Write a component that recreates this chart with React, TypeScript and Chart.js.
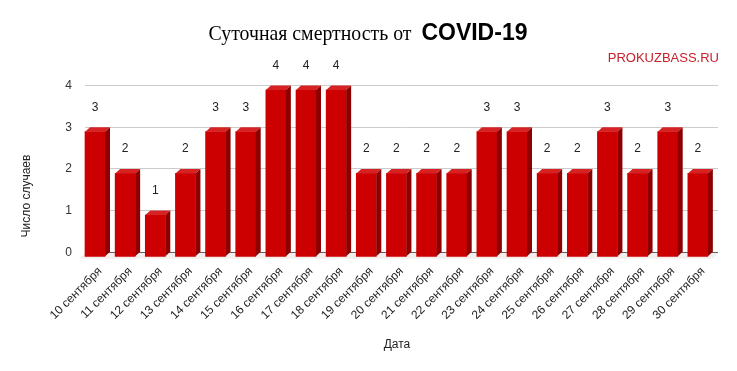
import React, { useEffect, useRef } from "react";
import { Chart, registerables } from "chart.js";

Chart.register(...registerables);

const categories = [
  "10 сентября", "11 сентября", "12 сентября", "13 сентября", "14 сентября",
  "15 сентября", "16 сентября", "17 сентября", "18 сентября", "19 сентября",
  "20 сентября", "21 сентября", "22 сентября", "23 сентября", "24 сентября",
  "25 сентября", "26 сентября", "27 сентября", "28 сентября", "29 сентября",
  "30 сентября",
];
const deaths = [3, 2, 1, 2, 3, 3, 4, 4, 4, 2, 2, 2, 2, 3, 3, 2, 2, 3, 2, 3, 2];
const yTicks = [0, 1, 2, 3, 4];

const titleSerif = "Суточная смертность от ";
const titleBold = "COVID-19";
const watermark = "PROKUZBASS.RU";
const yTitle = "Число случаев";
const xTitle = "Дата";

const SANS = "'Liberation Sans', Arial, sans-serif";
const SERIF = "'Liberation Serif', 'Times New Roman', serif";

const DEPTH_X = 5;
const DEPTH_Y = 4.5;
const SERIF_SCALE = 0.9;
const TITLE_GAP = 5;

const bars3d = {
  id: "bars3d",
  beforeDatasetsDraw(chart: any) {
    const { ctx, chartArea } = chart;
    ctx.save();
    ctx.fillStyle = "#f4eeee";
    ctx.beginPath();
    ctx.moveTo(chartArea.left, chartArea.bottom + 0.5);
    ctx.lineTo(chartArea.right, chartArea.bottom + 0.5);
    ctx.lineTo(chartArea.right - DEPTH_X, chartArea.bottom + DEPTH_Y + 2);
    ctx.lineTo(chartArea.left - DEPTH_X, chartArea.bottom + DEPTH_Y + 2);
    ctx.closePath();
    ctx.fill();
    ctx.restore();
    const meta = chart.getDatasetMeta(0);
    const el = meta.data[0];
    const slot = chart.scales.x.width / categories.length;
    const tx = el ? el.width / 2 - slot / 2 : 0;
    ctx.save();
    ctx.translate(tx, DEPTH_Y);
    chart.$tx = tx;
  },
  afterDatasetsDraw(chart: any) {
    const { ctx } = chart;
    const meta = chart.getDatasetMeta(0);
    meta.data.forEach((el: any) => {
      const l = el.x - el.width / 2;
      const r = el.x + el.width / 2;
      const t = el.y;
      const b = el.base;
      ctx.fillStyle = "#d62222";
      ctx.beginPath();
      ctx.moveTo(l, t);
      ctx.lineTo(r, t);
      ctx.lineTo(r + DEPTH_X, t - DEPTH_Y);
      ctx.lineTo(l + DEPTH_X, t - DEPTH_Y);
      ctx.closePath();
      ctx.fill();
      ctx.fillStyle = "#8e0000";
      ctx.beginPath();
      ctx.moveTo(r, t);
      ctx.lineTo(r + DEPTH_X, t - DEPTH_Y);
      ctx.lineTo(r + DEPTH_X, b - DEPTH_Y);
      ctx.lineTo(r, b);
      ctx.closePath();
      ctx.fill();
    });
    ctx.restore();
    const tx = chart.$tx || 0;
    ctx.save();
    ctx.fillStyle = "#222";
    ctx.font = `12px ${SANS}`;
    ctx.textAlign = "center";
    ctx.textBaseline = "middle";
    meta.data.forEach((el: any, i: number) => {
      ctx.fillText(String(deaths[i]), el.x + tx, el.y - 20);
    });
    ctx.restore();
  },
  afterDraw(chart: any) {
    const { ctx } = chart;
    ctx.save();
    ctx.textBaseline = "alphabetic";
    ctx.font = `22px ${SERIF}`;
    const w1 = ctx.measureText(titleSerif).width * SERIF_SCALE;
    ctx.font = `bold 23px ${SANS}`;
    const w2 = ctx.measureText(titleBold).width;
    const start = 368 - (w1 + TITLE_GAP + w2) / 2;
    ctx.fillStyle = "#000";
    ctx.textAlign = "left";
    ctx.save();
    ctx.translate(start, 40);
    ctx.scale(SERIF_SCALE, 1);
    ctx.font = `22px ${SERIF}`;
    ctx.fillText(titleSerif, 0, 0);
    ctx.restore();
    ctx.font = `bold 23px ${SANS}`;
    ctx.fillText(titleBold, start + w1 + TITLE_GAP, 40);
    ctx.fillStyle = "#c8202a";
    ctx.font = `13px ${SANS}`;
    ctx.textAlign = "right";
    ctx.textBaseline = "middle";
    ctx.fillText(watermark, 719, 58);
    ctx.fillStyle = "#222";
    ctx.font = `12px ${SANS}`;
    ctx.textAlign = "center";
    ctx.fillText(xTitle, 397, 345);
    ctx.translate(27, 196);
    ctx.rotate(-Math.PI / 2);
    ctx.fillText(yTitle, 0, 0);
    ctx.restore();
  },
};

export default function App() {
  const ref = useRef<HTMLCanvasElement>(null);
  useEffect(() => {
    document.body.style.margin = "0";
    const canvas = ref.current!;
    const chart = new Chart(canvas, {
      type: "bar",
      data: {
        labels: categories,
        datasets: [
          {
            data: deaths,
            backgroundColor: "#cc0000",
            borderWidth: 0,
            barThickness: 20,
            clip: false as any,
          },
        ],
      },
      options: {
        animation: false,
        responsive: false,
        devicePixelRatio: 1,
        layout: { padding: { top: 85.5, right: 19, left: 0, bottom: 0 } },
        plugins: {
          legend: { display: false },
          title: { display: false },
          tooltip: { enabled: false },
        },
        scales: {
          x: {
            grid: { display: false, drawTicks: false },
            border: { display: false },
            ticks: {
              font: { family: SANS, size: 12 },
              color: "#222",
              minRotation: 45,
              maxRotation: 45,
              autoSkip: false,
              padding: 12,
            },
            afterFit: (s: any) => {
              s.height = 118.7;
            },
          },
          y: {
            min: 0,
            max: 4,
            afterBuildTicks: (s: any) => {
              s.ticks = yTicks.map((v) => ({ value: v }));
            },
            grid: {
              drawTicks: false,
              color: (c: any) => (c.tick && c.tick.value === 0 ? "#333333" : "#cccccc"),
            },
            border: { display: false },
            ticks: {
              font: { family: SANS, size: 12 },
              color: "#333",
              padding: 13,
            },
            afterFit: (s: any) => {
              s.width = 85;
            },
          },
        },
      },
      plugins: [bars3d],
    });
    return () => chart.destroy();
  }, []);
  return (
    <div style={{ position: "absolute", left: 0, top: 0, width: 737, height: 371, background: "#fff" }}>
      <canvas ref={ref} width={737} height={371} />
    </div>
  );
}
